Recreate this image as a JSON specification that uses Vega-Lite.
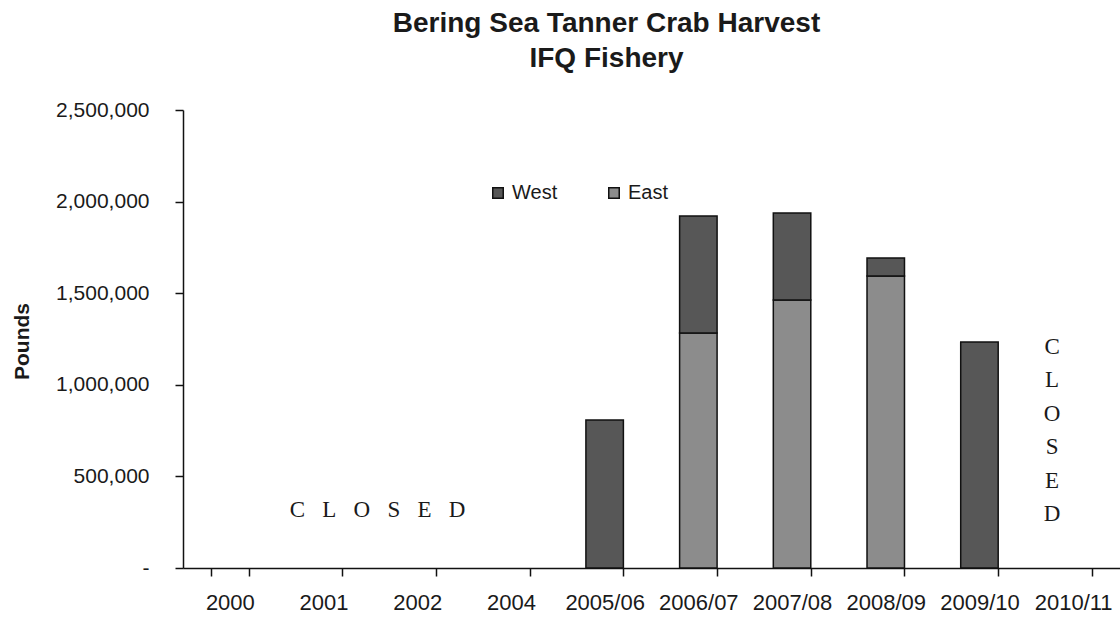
{
  "$schema": "https://vega.github.io/schema/vega-lite/v6.json",
  "autosize": {"type": "none"},
  "padding": {"left": 183, "top": 110, "right": 0, "bottom": 54},
  "width": 937,
  "height": 458,
  "background": "white",
  "title": {
    "text": ["Bering Sea Tanner Crab Harvest", "IFQ Fishery"],
    "font": "Liberation Sans",
    "fontSize": 28,
    "fontWeight": "bold",
    "color": "#1a1a1a",
    "anchor": "middle",
    "dx": -45,
    "offset": 26,
    "lineHeight": 35
  },
  "config": {
    "view": {"stroke": null},
    "axis": {"labelFont": "Liberation Sans", "titleFont": "Liberation Sans", "labelColor": "#1a1a1a", "titleColor": "#1a1a1a", "domainColor": "#111111", "tickColor": "#111111", "domainWidth": 1.5, "tickWidth": 1.5, "grid": false},
    "legend": {"labelFont": "Liberation Sans"}
  },
  "datasets": {
    "harvest": [
      {"season": "2005/06", "region": "West", "pounds": 808000},
      {"season": "2006/07", "region": "East", "pounds": 1283000},
      {"season": "2006/07", "region": "West", "pounds": 638000},
      {"season": "2007/08", "region": "East", "pounds": 1463000},
      {"season": "2007/08", "region": "West", "pounds": 475000},
      {"season": "2008/09", "region": "East", "pounds": 1594000},
      {"season": "2008/09", "region": "West", "pounds": 98000},
      {"season": "2009/10", "region": "West", "pounds": 1234000}
    ],
    "notes": [
      {"season": "2001", "pounds": 316000, "label": "C\u00a0\u00a0\u00a0L\u00a0\u00a0\u00a0O\u00a0\u00a0\u00a0S\u00a0\u00a0\u00a0E\u00a0\u00a0\u00a0D", "kind": "h"},
      {"season": "2010/11", "pounds": 1206000, "label": "C\nL\nO\nS\nE\nD", "kind": "v"}
    ]
  },
  "encoding": {
    "x": {
      "field": "season",
      "type": "nominal",
      "sort": ["2000", "2001", "2002", "2004", "2005/06", "2006/07", "2007/08", "2008/09", "2009/10", "2010/11"],
      "scale": {"domain": ["2000", "2001", "2002", "2004", "2005/06", "2006/07", "2007/08", "2008/09", "2009/10", "2010/11"], "paddingInner": 0.6, "paddingOuter": 0.3},
      "axis": {"title": null, "labelAngle": 0, "labelFontSize": 22, "tickBand": "extent", "tickSize": 8, "labelPadding": 16}
    }
  },
  "layer": [
    {
      "data": {"name": "harvest"},
      "mark": {"type": "bar", "stroke": "#111111", "strokeWidth": 1.5},
      "encoding": {
        "y": {
          "field": "pounds",
          "type": "quantitative",
          "stack": "zero",
          "scale": {"domain": [0, 2500000], "nice": false, "zero": true},
          "axis": {
            "title": "Pounds",
            "titleFontSize": 21,
            "titleFontWeight": "bold",
            "titleX": -161,
            "titleY": 231,
            "titleAlign": "center",
            "titleBaseline": "middle",
            "labelFontSize": 21,
            "values": [0, 500000, 1000000, 1500000, 2000000, 2500000],
            "labelExpr": "datum.value == 0 ? '-' : format(datum.value, ',')",
            "tickSize": 8,
            "labelPadding": 26
          }
        },
        "color": {
          "field": "region",
          "type": "nominal",
          "scale": {"domain": ["West", "East"], "range": ["#575757", "#8c8c8c"]},
          "legend": {
            "title": null,
            "orient": "none",
            "direction": "horizontal",
            "legendX": 305,
            "legendY": 73,
            "symbolType": "square",
            "symbolSize": 110,
            "symbolStrokeColor": "#111111",
            "symbolStrokeWidth": 1.5,
            "labelFontSize": 20,
            "labelColor": "#1a1a1a",
            "columnPadding": 46,
            "labelOffset": 4
          }
        },
        "order": {"field": "region", "sort": "ascending"}
      }
    },
    {
      "data": {"name": "notes"},
      "transform": [{"filter": "datum.kind == 'h'"}],
      "mark": {"type": "text", "font": "Liberation Serif", "fontSize": 23, "color": "#1a1a1a", "align": "center", "baseline": "middle", "dx": 54},
      "encoding": {
        "y": {"field": "pounds", "type": "quantitative"},
        "text": {"field": "label"}
      }
    },
    {
      "data": {"name": "notes"},
      "transform": [{"filter": "datum.kind == 'v'"}],
      "mark": {"type": "text", "font": "Liberation Serif", "fontSize": 23, "color": "#1a1a1a", "align": "center", "baseline": "middle", "dx": -21, "lineBreak": "\n", "lineHeight": 33.4},
      "encoding": {
        "y": {"field": "pounds", "type": "quantitative"},
        "text": {"field": "label"}
      }
    }
  ]
}
